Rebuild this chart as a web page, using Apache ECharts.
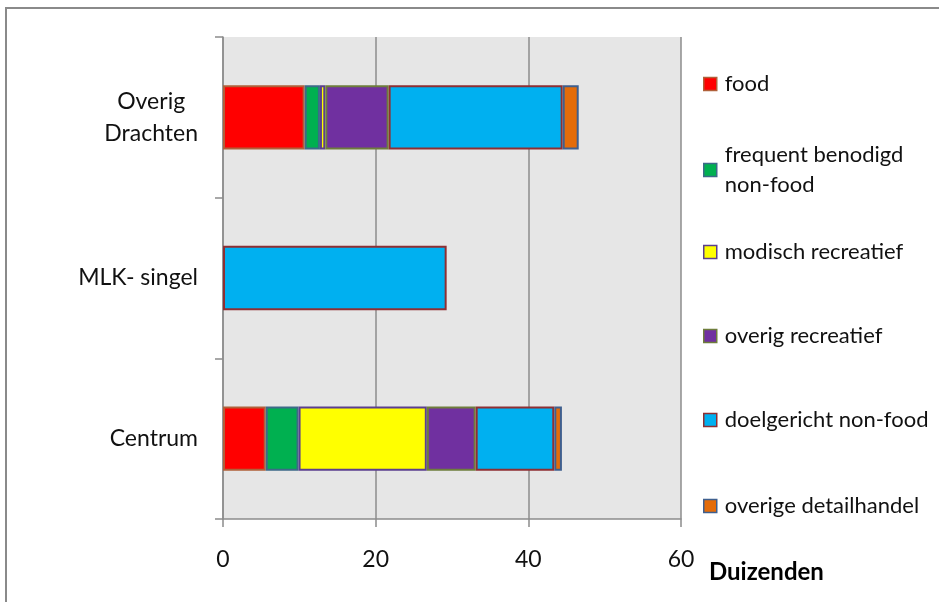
<!DOCTYPE html>
<html>
<head>
<meta charset="utf-8">
<script src="https://cdn.jsdelivr.net/npm/echarts@6/dist/echarts.min.js"></script>
<style>
  html, body { margin: 0; padding: 0; background: #ffffff; }
  #chart { width: 939px; height: 602px; }
</style>
</head>
<body>
<div id="chart"></div>
<script>
// Shopping areas (bottom to top on the category axis)
const locations = ['Centrum', 'MLK- singel', 'Overig Drachten'];

// Retail floor space per branch group, in thousands
const seriesNames = [
  'food',
  'frequent benodigd non-food',
  'modisch recreatief',
  'overig recreatief',
  'doelgericht non-food',
  'overige detailhandel'
];
const food               = [5.6, 0,    10.7];
const frequentNonFood    = [4.3, 0,    2.0];
const modischRecreatief  = [16.8, 0,   0.7];
const overigRecreatief   = [6.4, 0,    8.3];
const doelgerichtNonFood = [10.3, 29.3, 22.8];
const overigeDetail      = [1.0, 0,    2.1];

const xTicks = [0, 20, 40, 60];

const seriesValues = [food, frequentNonFood, modischRecreatief, overigRecreatief, doelgerichtNonFood, overigeDetail];
const fills   = ['#ff0000', '#00b050', '#ffff00', '#7030a0', '#00b0f0', '#e46c0a'];
const borders = ['#b0603a', '#3c6a88', '#5b3f8e', '#6e7d3c', '#8e2f33', '#3f5f8e'];
const legendCenters = [84, 170, 252, 336, 420, 506];

const FONT = 'Lato';

const chart = echarts.init(document.getElementById('chart'), null, { renderer: 'canvas' });

const series = seriesNames.map((name, i) => ({
  name: name,
  type: 'bar',
  stack: 'total',
  barWidth: '40%',
  data: seriesValues[i].map(v => (v === 0 ? null : v)),
  itemStyle: { color: fills[i], borderColor: borders[i], borderWidth: 2 },
  emphasis: { disabled: true }
}));

// One legend block per entry so the entries sit at their own heights
const legends = seriesNames.map((name, i) => {
  const twoLine = i === 1;
  return {
    data: [name],
    icon: 'rect',
    orient: 'vertical',
    left: 703,
    top: twoLine ? legendCenters[i] - 45 : legendCenters[i] - 15,
    padding: 0,
    itemWidth: 13,
    itemHeight: 13,
    itemGap: 0,
    selectedMode: false,
    itemStyle: { borderWidth: 1.5 },
    formatter: twoLine ? 'frequent benodigd\nnon-food' : '{name}',
    textStyle: {
      fontFamily: FONT,
      fontSize: 22,
      color: '#111',
      lineHeight: 30,
      padding: twoLine ? [30, 0, 0, 3] : [0, 0, 0, 3]
    }
  };
});

const option = {
  animation: false,
  backgroundColor: '#ffffff',
  graphic: [{
    type: 'rect',
    shape: { x: 6, y: 8, width: 960, height: 620 },
    style: { fill: 'none', stroke: '#8a8a8a', lineWidth: 2 },
    silent: true,
    z: -1
  }],
  grid: {
    left: 223, right: 258, top: 37, bottom: 83,
    show: true, backgroundColor: '#e6e6e6', borderWidth: 0
  },
  legend: legends,
  xAxis: {
    type: 'value',
    min: xTicks[0],
    max: xTicks[xTicks.length - 1],
    interval: xTicks[1] - xTicks[0],
    name: 'Duizenden',
    nameLocation: 'end',
    nameGap: 28,
    nameTextStyle: {
      fontFamily: FONT, fontSize: 24, fontWeight: 'bold', color: '#000',
      verticalAlign: 'top', align: 'left', padding: [41, 0, 0, 0]
    },
    axisLine: { show: true, lineStyle: { color: '#8c8c8c', width: 1.5 } },
    axisTick: { show: true, inside: false, length: 8, lineStyle: { color: '#8c8c8c', width: 1.5 } },
    axisLabel: { fontFamily: FONT, fontSize: 23, color: '#111', margin: 29 },
    splitLine: { show: true, lineStyle: { color: '#8c8c8c', width: 1.5 } }
  },
  yAxis: {
    type: 'category',
    data: locations,
    axisLine: { show: true, lineStyle: { color: '#8c8c8c', width: 1.5 } },
    axisTick: { show: true, inside: false, length: 8, lineStyle: { color: '#8c8c8c', width: 1.5 } },
    axisLabel: {
      fontFamily: FONT, fontSize: 23, color: '#111', margin: 25, lineHeight: 32,
      formatter: function (v) {
        if (v === 'Overig Drachten') return '{c|Overig}\n{c|Drachten}';
        return v;
      },
      rich: { c: { align: 'center', fontFamily: FONT, fontSize: 23, color: '#111', lineHeight: 32 } }
    },
    splitLine: { show: false }
  },
  series: series
};

chart.setOption(option);
</script>
</body>
</html>
